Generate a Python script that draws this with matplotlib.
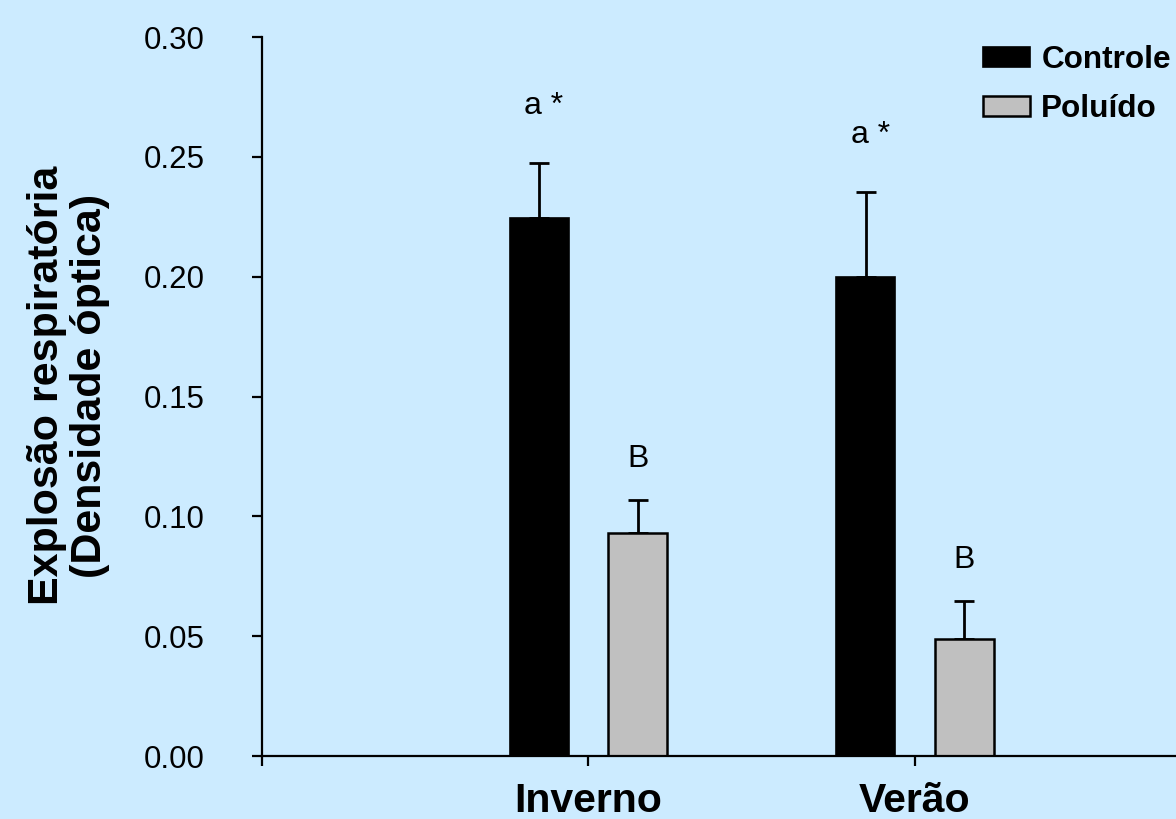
import matplotlib.pyplot as plt
import numpy as np

plt.rcParams['font.family'] = ['Liberation Sans', 'DejaVu Sans']

seasons = ["Inverno", "Verão"]
controle = [0.2245, 0.1999]
controle_err = [0.0229, 0.0354]
poluido = [0.0930, 0.0488]
poluido_err = [0.0138, 0.0159]
controle_marks = ["a *", "a *"]
poluido_marks = ["B", "B"]

bg = "#CCEBFF"
fig = plt.figure(figsize=(11.76, 8.19), dpi=100, facecolor=bg)
ax = fig.add_axes([0.2228, 0.0769, 0.7772, 0.8779])
ax.set_facecolor(bg)

x = np.arange(1, len(seasons) + 1)
w = 0.18
off = 0.151

ax.bar(x - off, controle, w, color="black", edgecolor="black", linewidth=1.2,
       label="Controle", zorder=2)
ax.bar(x + off, poluido, w, color="#C0C0C0", edgecolor="black", linewidth=1.8,
       label="Poluído", zorder=2)

# only the upper half of the error bars
ax.errorbar(x - off, controle, yerr=[np.zeros(2), controle_err], fmt="none",
            ecolor="black", elinewidth=2, capsize=7, capthick=2, zorder=1)
ax.errorbar(x + off, poluido, yerr=[np.zeros(2), poluido_err], fmt="none",
            ecolor="black", elinewidth=2, capsize=7, capthick=2, zorder=1)

for i in range(len(seasons)):
    ax.text(x[i] - off + 0.015, controle[i] + controle_err[i] + 0.024, controle_marks[i],
            ha="center", va="center", fontsize=23)
    ax.text(x[i] + off, poluido[i] + poluido_err[i] + 0.017, poluido_marks[i],
            ha="center", va="center", fontsize=23)

ax.set_xlim(0, 2.8)
ax.set_ylim(0, 0.30)
ax.set_yticks(np.arange(0, 0.31, 0.05))
ax.set_yticklabels(["%.2f" % v for v in np.arange(0, 0.31, 0.05)], fontsize=22.5)
ax.set_xticks([0, 1, 2])
ax.set_xticklabels(["", seasons[0], seasons[1]], fontsize=29.5, fontweight="bold")

ax.spines["top"].set_visible(False)
ax.spines["right"].set_visible(False)
ax.spines["left"].set_linewidth(1.6)
ax.spines["bottom"].set_linewidth(1.6)
ax.tick_params(axis="y", direction="out", length=7, width=1.6, pad=34)
ax.tick_params(axis="x", direction="out", length=7, width=1.6, pad=12)

ax.set_ylabel("Explosão respiratória\n(Densidade óptica)", fontsize=31,
              fontweight="bold", linespacing=1.1)
ax.yaxis.set_label_coords(-0.166, 0.515)

h, l = ax.get_legend_handles_labels()
fig.legend(h, l, loc="upper left", bbox_to_anchor=(983 / 1176, 1 - 45 / 819),
           frameon=False, borderpad=0, borderaxespad=0,
           prop={"weight": "bold", "size": 22.7}, handlelength=1.5,
           handleheight=0.6, handletextpad=0.35, labelspacing=0.6)

plt.savefig("out.png", dpi=100, facecolor=bg)
